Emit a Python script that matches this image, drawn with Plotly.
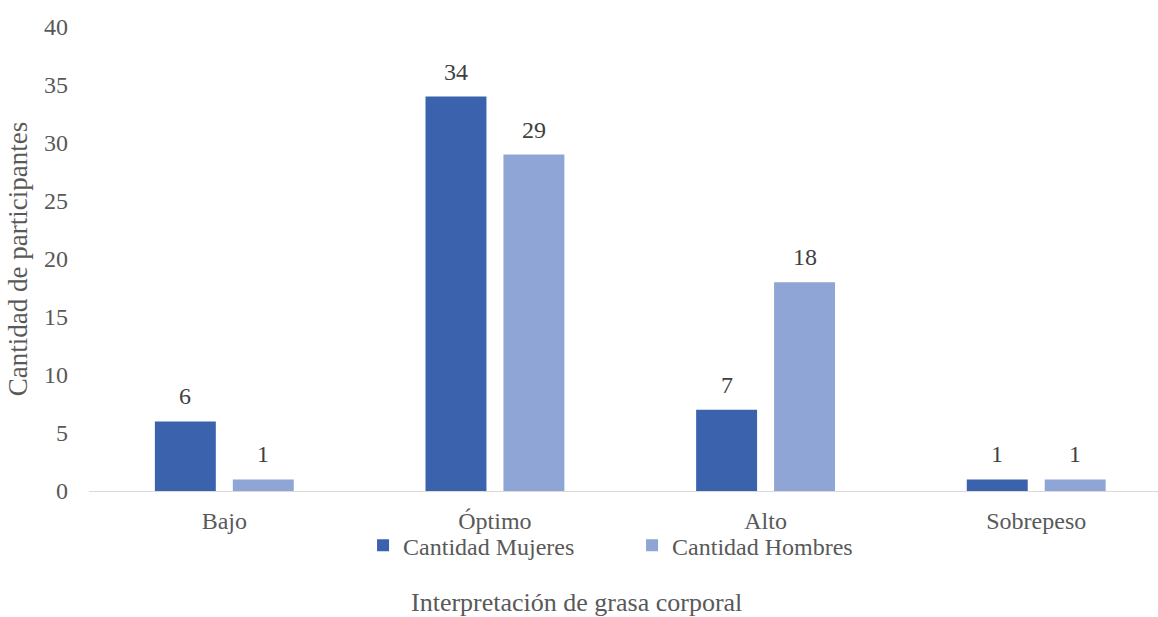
import plotly.graph_objects as go

# Body-fat interpretation categories and participant counts
categorias = ["Bajo", "Óptimo", "Alto", "Sobrepeso"]
mujeres = [6, 34, 7, 1]
hombres = [1, 29, 18, 1]
series_nombres = ["Cantidad Mujeres", "Cantidad Hombres"]
y_ticks = [0, 5, 10, 15, 20, 25, 30, 35, 40]

COLOR_MUJERES = "#3B62AD"
COLOR_HOMBRES = "#8FA5D6"
FONT = "Liberation Serif"
GRIS = "#595959"
GRIS_OSCURO = "#404040"

fig = go.Figure()
fig.add_trace(go.Bar(x=categorias, y=mujeres, name=series_nombres[0],
                     marker=dict(color=COLOR_MUJERES, line=dict(width=0))))
fig.add_trace(go.Bar(x=categorias, y=hombres, name=series_nombres[1],
                     marker=dict(color=COLOR_HOMBRES, line=dict(width=0))))

# Value labels above each bar (offset half a bar slot left/right of the category)
for serie, desplazamiento in ((mujeres, -39), (hombres, 39)):
    for cat, val in zip(categorias, serie):
        fig.add_annotation(x=cat, y=val, text=str(val), showarrow=False,
                           xshift=desplazamiento, yshift=10, yanchor="bottom",
                           font=dict(family=FONT, size=24, color=GRIS_OSCURO))

# Category-axis title, centred on the whole figure
fig.add_annotation(x=0.4565, xref="paper", y=-0.241, yref="paper",
                   text="Interpretación de grasa corporal", showarrow=False,
                   xanchor="center", yanchor="middle",
                   font=dict(family=FONT, size=26, color=GRIS))

fig.update_layout(
    width=1158, height=617,
    margin=dict(l=89, r=0, t=27, b=126),
    paper_bgcolor="white", plot_bgcolor="white",
    barmode="group", bargap=0.424, bargroupgap=0.218,
    font=dict(family=FONT, size=24, color=GRIS),
    showlegend=True,
    legend=dict(orientation="h", x=0.508, xanchor="center", y=-0.118,
                yanchor="middle", font=dict(family=FONT, size=24, color=GRIS),
                entrywidth=224, entrywidthmode="pixels",
                itemsizing="constant", bgcolor="rgba(0,0,0,0)"),
    xaxis=dict(range=[-0.5, 3.45], showline=True, linecolor="#D9D9D9",
               linewidth=1, showgrid=False, ticks="", ticklabelstandoff=8,
               tickfont=dict(family=FONT, size=24, color=GRIS)),
    yaxis=dict(range=[0, 40], tickvals=y_ticks, showgrid=False,
               showline=False, zeroline=False, ticks="",
               ticklabelstandoff=20,
               tickfont=dict(family=FONT, size=24, color=GRIS),
               title=dict(text="Cantidad de participantes", standoff=8,
                          font=dict(family=FONT, size=27, color=GRIS))),
)

fig.write_html("out.html")
